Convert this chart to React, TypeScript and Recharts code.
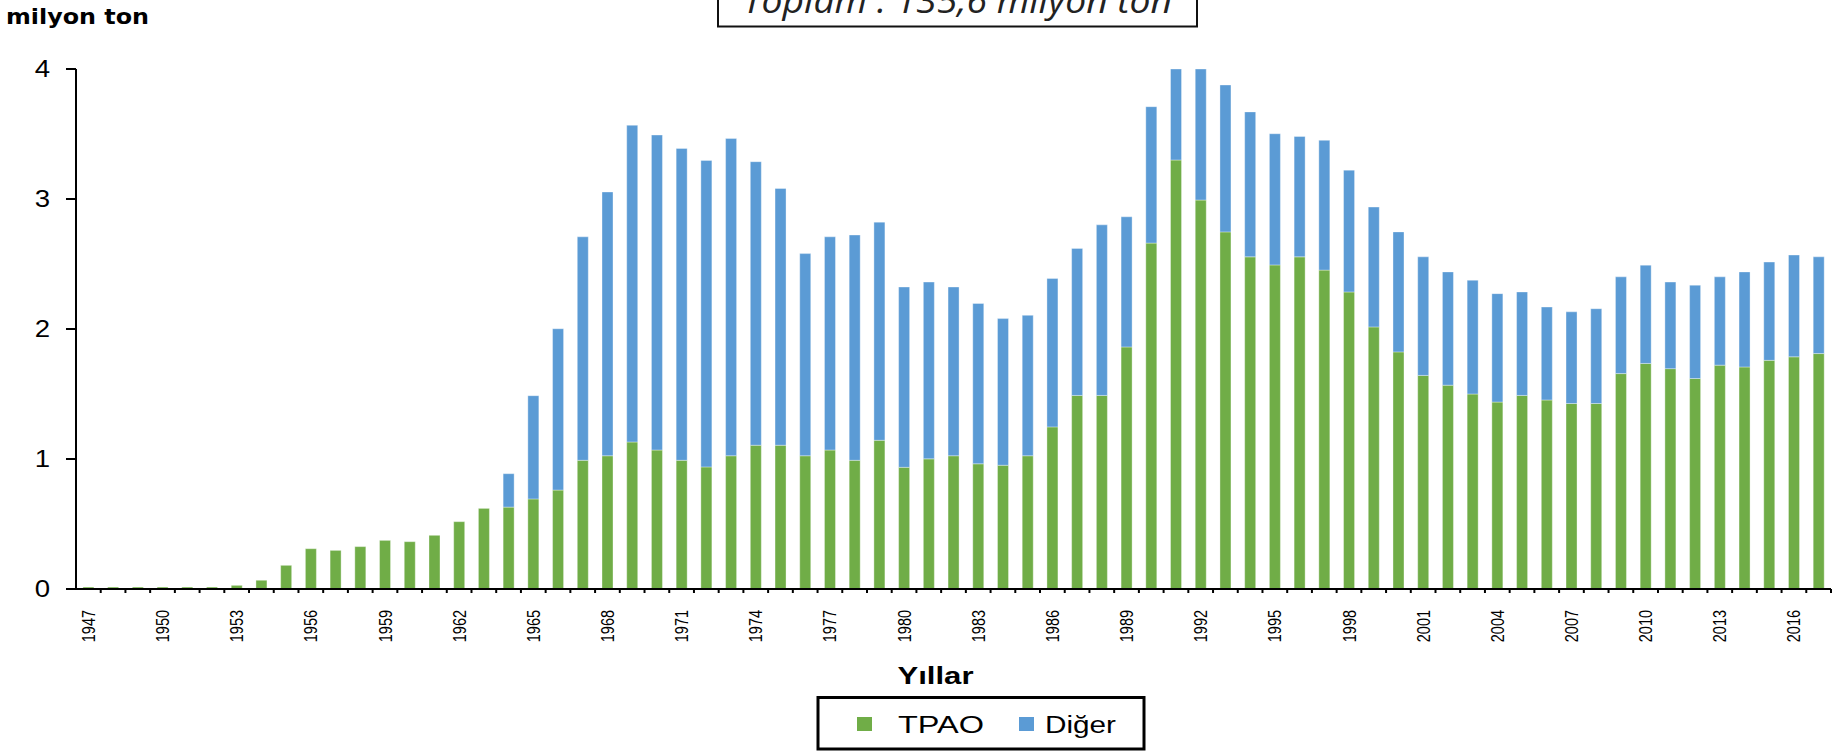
import React from "react";
import { BarChart, Bar, XAxis, YAxis } from "recharts";

const years: number[] = [
  1947, 1948, 1949, 1950, 1951, 1952, 1953, 1954, 1955, 1956, 1957, 1958, 1959, 1960,
  1961, 1962, 1963, 1964, 1965, 1966, 1967, 1968, 1969, 1970, 1971, 1972, 1973, 1974,
  1975, 1976, 1977, 1978, 1979, 1980, 1981, 1982, 1983, 1984, 1985, 1986, 1987, 1988,
  1989, 1990, 1991, 1992, 1993, 1994, 1995, 1996, 1997, 1998, 1999, 2000, 2001, 2002,
  2003, 2004, 2005, 2006, 2007, 2008, 2009, 2010, 2011, 2012, 2013, 2014, 2015, 2016, 2017,
];

const tpao: number[] = [
  0.015, 0.015, 0.015, 0.015, 0.015, 0.015, 0.028, 0.067, 0.182, 0.31, 0.297, 0.326, 0.374, 0.364,
  0.413, 0.518, 0.62, 0.63, 0.693, 0.761, 0.99, 1.025, 1.131, 1.069, 0.99, 0.939, 1.025, 1.106,
  1.106, 1.025, 1.069, 0.99, 1.144, 0.936, 1.001, 1.025, 0.963, 0.952, 1.025, 1.247, 1.489, 1.489,
  1.862, 2.661, 3.3, 2.992, 2.747, 2.555, 2.493, 2.555, 2.453, 2.285, 2.016, 1.824, 1.643, 1.568,
  1.5, 1.438, 1.489, 1.454, 1.427, 1.427, 1.657, 1.735, 1.695, 1.619, 1.722, 1.708, 1.759, 1.786, 1.811,
];

const diger: number[] = [
  0, 0, 0, 0, 0, 0, 0, 0, 0, 0, 0, 0, 0, 0,
  0, 0, 0, 0.257, 0.794, 1.241, 1.719, 2.029, 2.436, 2.423, 2.399, 2.358, 2.44, 2.181,
  1.975, 1.555, 1.64, 1.733, 1.678, 1.387, 1.36, 1.298, 1.233, 1.128, 1.08, 1.141, 1.131, 1.312,
  1.001, 1.049, 1.15, 1.288, 1.13, 1.115, 1.009, 0.926, 0.998, 0.937, 0.922, 0.923, 0.912, 0.871,
  0.875, 0.834, 0.796, 0.715, 0.705, 0.729, 0.744, 0.756, 0.666, 0.718, 0.679, 0.731, 0.756, 0.783, 0.744,
];

const yTicks: number[] = [0, 1, 2, 3, 4];
const labelStep = 3;

const seriesNames = { tpao: "TPAO", diger: "Diğer" };
const colors = { tpao: "#70AD47", diger: "#5B9BD5" };

const data = years.map((y, i) => ({ year: y, tpao: tpao[i], diger: diger[i] }));

const X_TICK_MARGIN = 21;

const XTick = (props: any) => {
  const { x, y, payload, index } = props;
  const half = payload && typeof payload.offset === "number" ? payload.offset : 0;
  const axisY = y - X_TICK_MARGIN;
  return (
    <g>
      <line x1={x + half} x2={x + half} y1={axisY} y2={axisY + 4} stroke="#000" strokeWidth={2} />
      {index % labelStep === 0 ? (
        <text
          transform={`translate(${x},${y}) rotate(-90) scale(1,1.25)`}
          textAnchor="end"
          dy="0.36em"
          fontFamily="'Liberation Sans', Arial, sans-serif"
          fontSize={14.5}
          fill="#000"
        >
          {payload.value}
        </text>
      ) : null}
    </g>
  );
};

const YTick = (props: any) => {
  const { x, y, payload } = props;
  return (
    <text
      transform={`translate(${x},${y}) scale(1.2,1)`}
      textAnchor="end"
      dy="0.36em"
      fontFamily="'Liberation Sans', Arial, sans-serif"
      fontSize={23}
      fill="#000"
    >
      {payload.value}
    </text>
  );
};

export default function App() {
  return (
    <div style={{ position: "absolute", left: 0, top: 0, width: 1843, height: 752, background: "#fff", overflow: "hidden" }}>
      <BarChart
        width={1843}
        height={752}
        data={data}
        margin={{ top: 69, right: 12, bottom: 103, left: 0 }}
        barCategoryGap="28%"
      >
        <XAxis
          dataKey="year"
          type="category"
          interval={0}
          height={60}
          stroke="#000"
          strokeWidth={2}
          axisLine={true}
          tickLine={false}
          tickSize={0}
          tickMargin={X_TICK_MARGIN}
          tick={<XTick />}
        />
        <YAxis
          domain={[0, 4]}
          ticks={yTicks}
          allowDataOverflow
          width={76}
          interval={0}
          stroke="#000"
          strokeWidth={2}
          axisLine={true}
          tickLine={true}
          tickSize={10}
          tickMargin={16}
          tick={<YTick />}
        />
        <Bar dataKey="tpao" name={seriesNames.tpao} stackId="a" fill={colors.tpao} stroke="#ffffff" strokeOpacity={0.35} strokeWidth={1} isAnimationActive={false} />
        <Bar dataKey="diger" name={seriesNames.diger} stackId="a" fill={colors.diger} stroke="#ffffff" strokeOpacity={0.35} strokeWidth={1} isAnimationActive={false} />
      </BarChart>
      <svg width={1843} height={752} style={{ position: "absolute", left: 0, top: 0, pointerEvents: "none" }}>
        <rect x={718} y={-40} width={479} height={66.5} fill="#fff" stroke="#111" strokeWidth={2} />
        <text x={743} y={13} fontFamily="'Open Sans', sans-serif" fontStyle="italic" fontSize={34} fill="#222" textLength={429} lengthAdjust="spacingAndGlyphs">
          Toplam : 135,6 milyon ton
        </text>
        <text x={6} y={24} fontFamily="'DejaVu Sans', Verdana, sans-serif" fontWeight="bold" fontSize={22} fill="#000" textLength={143} lengthAdjust="spacingAndGlyphs">
          milyon ton
        </text>
        <text x={935.5} y={684} textAnchor="middle" fontFamily="'Liberation Sans', Arial, sans-serif" fontWeight="bold" fontSize={24} fill="#000" textLength={76} lengthAdjust="spacingAndGlyphs">
          Yıllar
        </text>
        <rect x={818} y={697.5} width={326} height={51.5} fill="#fff" stroke="#000" strokeWidth={3} />
        <rect x={857} y={717} width={15} height={14} fill={colors.tpao} />
        <text x={898} y={733} fontFamily="'Liberation Sans', Arial, sans-serif" fontSize={23} fill="#000" textLength={86} lengthAdjust="spacingAndGlyphs">
          {seriesNames.tpao}
        </text>
        <rect x={1019} y={717} width={15} height={14} fill={colors.diger} />
        <text x={1045} y={733} fontFamily="'Liberation Sans', Arial, sans-serif" fontSize={23} fill="#000" textLength={71} lengthAdjust="spacingAndGlyphs">
          {seriesNames.diger}
        </text>
      </svg>
    </div>
  );
}
